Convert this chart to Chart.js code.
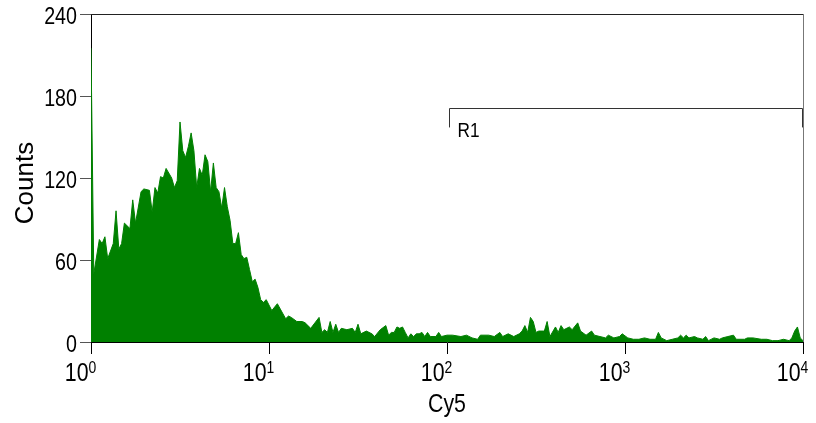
<!DOCTYPE html>
<html>
<head>
<meta charset="utf-8">
<script src="https://cdn.jsdelivr.net/npm/chart.js@4"></script>
<style>
  body { margin: 0; background: #fff; }
  canvas { display: block; }
</style>
</head>
<body>
<canvas id="histChart" width="816" height="423"></canvas>
<script>
/* Cy5 histogram, 256 log channels over 4 decades */
const channels = [0,1,3,4,5,6,8,9,10,11,12,14,15,16,18,19,21,22,23,24,25,26,27,29,30,31,32,33,34,35,36,37,38,39,40,41,42,43,44,45,46,47,48,49,50,51,52,53,54,55,56,57,58,59,60,61,62,63,65,67,70,71,72,74,76,77,79,82,83,84,85,86,87,88,89,90,92,94,95,96,97,99,101,102,104,106,107,108,109,110,111,112,113,114,115,116,117,118,119,120,121,122,124,125,126,128,130,133,135,137,139,140,143,145,147,148,150,152,154,155,156,157,158,159,160,161,163,164,165,167,168,169,170,172,173,175,176,178,180,181,183,185,186,188,190,191,193,195,197,199,201,203,204,205,207,209,211,212,213,214,215,217,218,220,221,222,224,226,227,229,231,232,235,236,238,241,243,245,247,249,251,252,253,254,255,256];
const counts = [215,50,75,72,77,61,72,96,68,72,87,83,104,87,110,112,111,95,113,109,121,120,127,120,113,118,161,140,135,143,153,140,113,127,122,137,132,110,131,113,110,98,113,99,89,72,72,80,64,61,62,53,44,46,40,31,29,31,23,28,17,19,18,15,15,14,10,18,7,9,7,15,7,13,7,10,9,10,7,13,6,8,6,4,9,12,5,7,7,11,10,11,7,3,6,4,6,6,7,4,7,4,4,7,4,5,5,4,5,3,2,5,5,4,7,4,6,4,6,8,12,7,18,15,7,8,8,15,4,11,7,12,9,11,9,14,8,5,8,5,4,3,5,3,4,6,3,2,2,3,2,2,7,3,1,2,3,5,3,5,3,4,3,2,4,1,3,2,3,4,5,2,2,3,3,2,2,1,1,2,1,3,8,11,3,1];
const decadeTicks = [1, 10, 100, 1000, 10000];
const countTicks = [0, 60, 120, 180, 240];

// region marker R1
const regionName = 'R1';
const regionFrom = 103;
const regionTo = 9870;
const regionLevel = 171;
const regionDrop = 157;

const fontFamily = "'Liberation Sans', Arial, sans-serif";

const points = channels.map((c, i) => ({ x: Math.pow(10, c / 64), y: counts[i] }));

// condensed text, the original uses a narrow face
function narrowText(ctx, text, x, y, size, align, squeeze) {
  ctx.save();
  ctx.translate(x, y);
  ctx.scale(squeeze || 0.82, 1);
  ctx.font = size + 'px ' + fontFamily;
  ctx.textAlign = align;
  ctx.textBaseline = 'alphabetic';
  ctx.fillText(text, 0, 0);
  ctx.restore();
}

const extras = {
  id: 'extras',
  afterDraw(chart) {
    const ctx = chart.ctx;
    const xs = chart.scales.x, ys = chart.scales.y;
    const a = chart.chartArea;
    ctx.save();

    // frame top + right
    ctx.lineWidth = 1;
    ctx.strokeStyle = '#222';
    ctx.beginPath();
    ctx.moveTo(a.left, a.top + 0.5);
    ctx.lineTo(a.right, a.top + 0.5);
    ctx.stroke();
    ctx.strokeStyle = '#777';
    ctx.beginPath();
    ctx.moveTo(a.right + 0.5, a.top);
    ctx.lineTo(a.right + 0.5, a.bottom);
    ctx.stroke();

    // R1 bracket
    const r0 = Math.round(xs.getPixelForValue(regionFrom)) + 0.5;
    const r1 = Math.round(xs.getPixelForValue(regionTo)) + 0.5;
    const ry = Math.round(ys.getPixelForValue(regionLevel)) + 0.5;
    const rd = ys.getPixelForValue(regionDrop);
    ctx.strokeStyle = '#333';
    ctx.beginPath();
    ctx.moveTo(r0, rd);
    ctx.lineTo(r0, ry);
    ctx.lineTo(r1, ry);
    ctx.lineTo(r1, rd);
    ctx.stroke();
    ctx.fillStyle = '#000';
    narrowText(ctx, regionName, r0 + 8, rd + 10, 21, 'left');

    // y tick labels
    countTicks.forEach(v => {
      const py = ys.getPixelForValue(v);
      narrowText(ctx, String(v), a.left - 14, py + 9.5, 24, 'right');
    });

    // x tick labels 10^n
    decadeTicks.forEach(v => {
      const px = xs.getPixelForValue(v);
      narrowText(ctx, '10', px - 2.5, a.bottom + 38.5, 26, 'right');
      narrowText(ctx, String(Math.round(Math.log10(v))), px - 2.5, a.bottom + 31, 17, 'left');
    });

    // axis titles
    narrowText(ctx, 'Cy5', (a.left + a.right) / 2, 412, 26, 'center');
    ctx.translate(33, 183);
    ctx.rotate(-Math.PI / 2);
    narrowText(ctx, 'Counts', 0, 0, 26, 'center', 1);
    ctx.restore();
  }
};

const config = {
  type: 'line',
  data: {
    datasets: [{
      data: points,
      borderColor: '#008000',
      backgroundColor: '#008000',
      borderWidth: 1,
      fill: 'origin',
      pointRadius: 0,
      tension: 0
    }]
  },
  options: {
    responsive: false,
    animation: false,
    layout: { padding: { top: 14, right: 13, left: 0, bottom: 0 } },
    plugins: { legend: { display: false }, tooltip: { enabled: false } },
    scales: {
      x: {
        type: 'logarithmic',
        min: 1,
        max: 10000,
        afterBuildTicks: s => { s.ticks = decadeTicks.map(v => ({ value: v })); },
        afterFit: s => { s.height = 81; },
        ticks: { display: false },
        grid: { drawOnChartArea: false, tickLength: 12, color: '#000' },
        border: { color: '#000', width: 1 }
      },
      y: {
        min: 0,
        max: 240,
        afterBuildTicks: s => { s.ticks = countTicks.map(v => ({ value: v })); },
        afterFit: s => { s.width = 91; },
        ticks: { display: false },
        grid: { drawOnChartArea: false, tickLength: 11, color: '#555' },
        border: { color: '#000', width: 1 }
      }
    }
  },
  plugins: [extras]
};

var myChart = new Chart(document.getElementById('histChart'), config);
</script>
</body>
</html>
